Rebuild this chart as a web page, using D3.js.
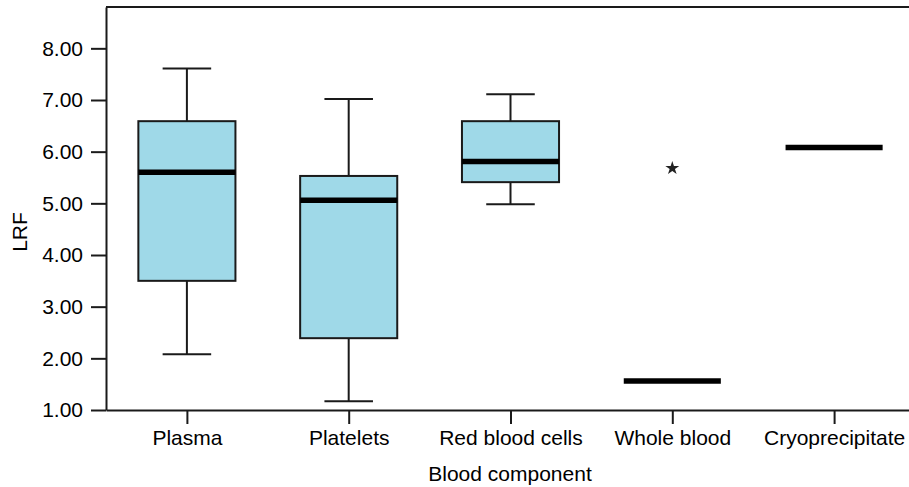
<!DOCTYPE html>
<html>
<head>
<meta charset="utf-8">
<script src="https://cdn.jsdelivr.net/npm/d3@7"></script>
<style>
  body { margin: 0; background: #fff; }
  text { font-family: "Liberation Sans", Arial, sans-serif; }
</style>
</head>
<body>
<script>
const categories = ["Plasma", "Platelets", "Red blood cells", "Whole blood", "Cryoprecipitate"];
const whiskerLow  = [2.08, 1.17, 4.98, null, null];
const q1          = [3.50, 2.39, 5.41, null, null];
const medians     = [5.60, 5.06, 5.81, 1.56, 6.08];
const q3          = [6.59, 5.53, 6.59, null, null];
const whiskerHigh = [7.61, 7.02, 7.11, null, null];
const outliers    = [{cat: "Whole blood", value: 5.68}];
const yTicks = [1, 2, 3, 4, 5, 6, 7, 8];

const width = 909, height = 487;
const plotLeft = 106, plotTop = 7, plotBottom = 410, plotRight = 915;

const svg = d3.select("body")
  .append("svg")
  .attr("width", width)
  .attr("height", height);

const x = d3.scalePoint()
  .domain(categories)
  .range([plotLeft, plotRight])
  .padding(0.5);

const y = d3.scaleLinear()
  .domain([1, 8.8])
  .range([plotBottom, plotTop]);

const boxW = x.step() * 0.6;
const capW = boxW / 2;

const data = categories.map((c, i) => ({
  cat: c, lo: whiskerLow[i], q1: q1[i], med: medians[i], q3: q3[i], hi: whiskerHigh[i]
}));

// top frame line
svg.append("line")
  .attr("x1", plotLeft).attr("x2", width)
  .attr("y1", plotTop).attr("y2", plotTop)
  .attr("stroke", "#1a1a1a")
  .attr("stroke-width", 2);

// axes
const yAxis = svg.append("g")
  .attr("transform", `translate(${plotLeft},0)`)
  .call(d3.axisLeft(y).tickValues(yTicks).tickFormat(d3.format(".2f")).tickSize(15).tickSizeOuter(0).tickPadding(8));

const xAxis = svg.append("g")
  .attr("transform", `translate(0,${plotBottom})`)
  .call(d3.axisBottom(x).tickSize(14).tickSizeOuter(0).tickPadding(6));

[yAxis, xAxis].forEach(g => {
  g.selectAll("path, line").attr("stroke", "#1a1a1a").attr("stroke-width", 2);
  g.selectAll("text").attr("fill", "#000").style("font-size", "21px");
});

const boxes = data.filter(d => d.q1 != null);

// whiskers
const g = svg.append("g");
g.selectAll(".whisker")
  .data(boxes)
  .enter()
  .append("line")
  .attr("x1", d => x(d.cat)).attr("x2", d => x(d.cat))
  .attr("y1", d => y(d.lo)).attr("y2", d => y(d.hi))
  .attr("stroke", "#1a1a1a").attr("stroke-width", 2);

g.selectAll(".cap")
  .data(boxes.flatMap(d => [{cat: d.cat, v: d.lo}, {cat: d.cat, v: d.hi}]))
  .enter()
  .append("line")
  .attr("x1", d => x(d.cat) - capW / 2).attr("x2", d => x(d.cat) + capW / 2)
  .attr("y1", d => y(d.v)).attr("y2", d => y(d.v))
  .attr("stroke", "#1a1a1a").attr("stroke-width", 2);

g.selectAll("rect")
  .data(boxes)
  .enter()
  .append("rect")
  .attr("x", d => x(d.cat) - boxW / 2)
  .attr("width", boxW)
  .attr("y", d => y(d.q3))
  .attr("height", d => y(d.q1) - y(d.q3))
  .attr("fill", "#9fd9e8")
  .attr("stroke", "#1a1a1a")
  .attr("stroke-width", 2);

// medians
g.selectAll(".median")
  .data(data)
  .enter()
  .append("line")
  .attr("x1", d => x(d.cat) - boxW / 2).attr("x2", d => x(d.cat) + boxW / 2)
  .attr("y1", d => y(d.med)).attr("y2", d => y(d.med))
  .attr("stroke", "#000").attr("stroke-width", 5.5);

// outliers
const star = d3.symbol().type(d3.symbolStar).size(60);
g.selectAll(".outlier")
  .data(outliers)
  .enter()
  .append("path")
  .attr("d", star)
  .attr("transform", d => `translate(${x(d.cat)},${y(d.value)})`)
  .attr("fill", "#222");

// axis titles
svg.append("text")
  .attr("transform", "translate(27,232) rotate(-90)")
  .attr("text-anchor", "middle")
  .style("font-size", "21px")
  .attr("fill", "#000")
  .text("LRF");

svg.append("text")
  .attr("x", 510)
  .attr("y", 481)
  .attr("text-anchor", "middle")
  .style("font-size", "21px")
  .attr("fill", "#000")
  .text("Blood component");
</script>
</body>
</html>
